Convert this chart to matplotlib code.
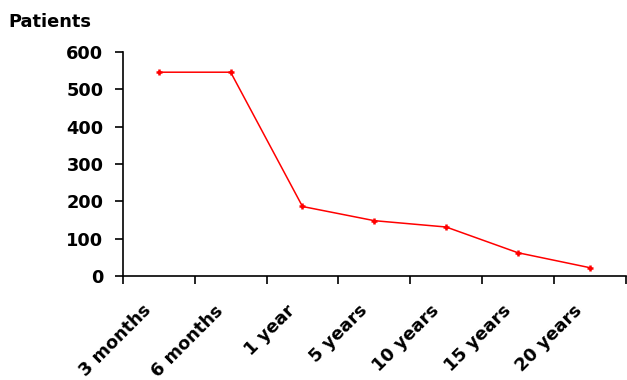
import numpy as np
import matplotlib
matplotlib.use("Agg")
import matplotlib.pyplot as plt
from matplotlib.transforms import ScaledTranslation

# Patients remaining at each follow-up interval
periods = ["3 months", "6 months", "1 year", "5 years", "10 years", "15 years", "20 years"]
patients = [546, 546, 186, 148, 131, 62, 22]
y_ticks = [0, 100, 200, 300, 400, 500, 600]

plt.rcParams.update({
    "font.family": ["DejaVu Sans"],
    "font.weight": "bold",
    "font.size": 12.8,
})

fig = plt.figure(figsize=(6.27, 3.8), dpi=100)
ax = fig.add_axes([0.196, 0.274, 0.802, 0.589])

x = np.arange(len(periods))
ax.plot(x, patients, color="#ff0000", linewidth=1.1, marker="+",
        markersize=5, markeredgewidth=1.8)

ax.set_xlim(-0.5, len(periods) - 0.5)
ax.set_ylim(0, 600)
ax.set_yticks(y_ticks)
ax.set_yticklabels([str(v) for v in y_ticks], fontweight="bold")

# ticks sit between categories, labels at the centres
ax.set_xticks(np.arange(len(periods) + 1) - 0.5)
ax.set_xticklabels([])
ax.set_xticks(x, minor=True)
ax.set_xticklabels(periods, minor=True, rotation=45, ha="right", va="center",
                   rotation_mode="anchor", fontweight="bold")
ax.tick_params(axis="x", which="minor", length=0, pad=0)
ax.tick_params(axis="x", which="major", length=6, width=1.2)
ax.tick_params(axis="y", length=6, width=1.2, pad=8)

# shift the slanted labels so their ends sit just below-left of each point
shift = ScaledTranslation(-0.10, -0.32, fig.dpi_scale_trans)
for lbl in ax.get_xticklabels(minor=True):
    lbl.set_transform(lbl.get_transform() + shift)

for side in ("top", "right"):
    ax.spines[side].set_visible(False)
for side in ("left", "bottom"):
    ax.spines[side].set_linewidth(1.2)

fig.text(0.013, 1 - 27 / 380, "Patients", fontsize=12.8, fontweight="bold",
         va="baseline")

fig.savefig("out.png", dpi=100)
